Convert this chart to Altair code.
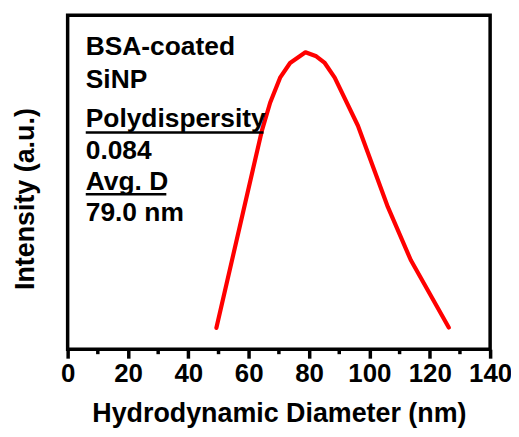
import altair as alt
import pandas as pd

# Size distribution
diameter = [49.3, 64.3, 67.1, 70.4, 73.7, 78.8, 82.4, 85.2, 88.5, 96.2, 106.1, 113.7, 126.3]
intensity = [6.4, 65.2, 73.8, 81.3, 85.7, 88.9, 87.7, 85.7, 81.3, 66.9, 42.6, 26.7, 6.5]

# Annotation text
ann_text = ["BSA-coated", "SiNP", "Polydispersity", "0.084", "Avg. D", "79.0 nm"]
ann_x = [6.0, 6.0, 6.0, 6.0, 6.0, 6.0]
ann_y = [88.1, 78.1, 66.4, 56.9, 47.7, 38.4]

# Underlines under "Polydispersity" and "Avg. D"
ul_x1 = [6.0, 6.0]
ul_x2 = [64.9, 32.7]
ul_y = [64.9, 46.4]

minor_ticks = [10, 30, 50, 70, 90, 110, 130]
major_ticks = [0, 20, 40, 60, 80, 100, 120, 140]

FONT = "Liberation Sans"
W, H = 425, 336

curve = pd.DataFrame({"d": diameter, "i": intensity})
ann = pd.DataFrame({"t": ann_text, "x": ann_x, "y": ann_y})
ul = pd.DataFrame({"x1": ul_x1, "x2": ul_x2, "y": ul_y})
minor = pd.DataFrame({"m": minor_ticks})

xscale = alt.Scale(domain=[0, 140], nice=False, zero=False)
yscale = alt.Scale(domain=[0, 100], nice=False, zero=False)

xaxis = alt.Axis(
    title="Hydrodynamic Diameter (nm)",
    values=major_ticks,
    domain=False,
    grid=False,
    ticks=True,
    tickSize=9,
    tickWidth=3.5,
    tickColor="black",
    labelFont=FONT,
    labelFontSize=26,
    labelFontWeight="bold",
    labelColor="black",
    labelPadding=2,
    labelFlush=False,
    labelOverlap=False,
    titleFont=FONT,
    titleFontSize=27,
    titleFontWeight="bold",
    titleColor="black",
    titleBaseline="alphabetic",
    titleY=73,
    titleX=W / 2,
    titleAlign="center",
)

yaxis = alt.Axis(
    title="Intensity (a.u.)",
    labels=False,
    ticks=False,
    domain=False,
    grid=False,
    titleFont=FONT,
    titleFontSize=27,
    titleFontWeight="bold",
    titleColor="black",
    titleAngle=270,
    titleBaseline="alphabetic",
    titleAlign="center",
    titleX=-34.4,
    titleY=184.5,
)

line = alt.Chart(curve).mark_line(color="#ff0000", strokeWidth=4.2, strokeCap="round", strokeJoin="round").encode(
    x=alt.X("d:Q", scale=xscale, axis=xaxis),
    y=alt.Y("i:Q", scale=yscale, axis=yaxis),
)

texts = alt.Chart(ann).mark_text(
    align="left", baseline="alphabetic", font=FONT, fontSize=26.5, fontWeight="bold", color="black"
).encode(
    x=alt.X("x:Q", scale=xscale),
    y=alt.Y("y:Q", scale=yscale),
    text="t:N",
)

underlines = alt.Chart(ul).mark_rule(color="black", strokeWidth=2.5).encode(
    x=alt.X("x1:Q", scale=xscale),
    x2="x2:Q",
    y=alt.Y("y:Q", scale=yscale),
)

minor_rules = alt.Chart(minor).mark_rule(color="black", strokeWidth=3.5).encode(
    x=alt.X("m:Q", scale=xscale),
    y=alt.value(H),
    y2=alt.value(H + 5),
)

chart = alt.layer(line, texts, underlines, minor_rules).properties(
    width=W,
    height=H,
    autosize=alt.AutoSizeParams(type="none"),
    padding={"left": 60, "top": 6, "right": 21, "bottom": 79},
    background="white",
).configure_view(stroke="black", strokeWidth=3.5)

chart.save("out.html", embed_options={"renderer": "svg", "actions": False})
